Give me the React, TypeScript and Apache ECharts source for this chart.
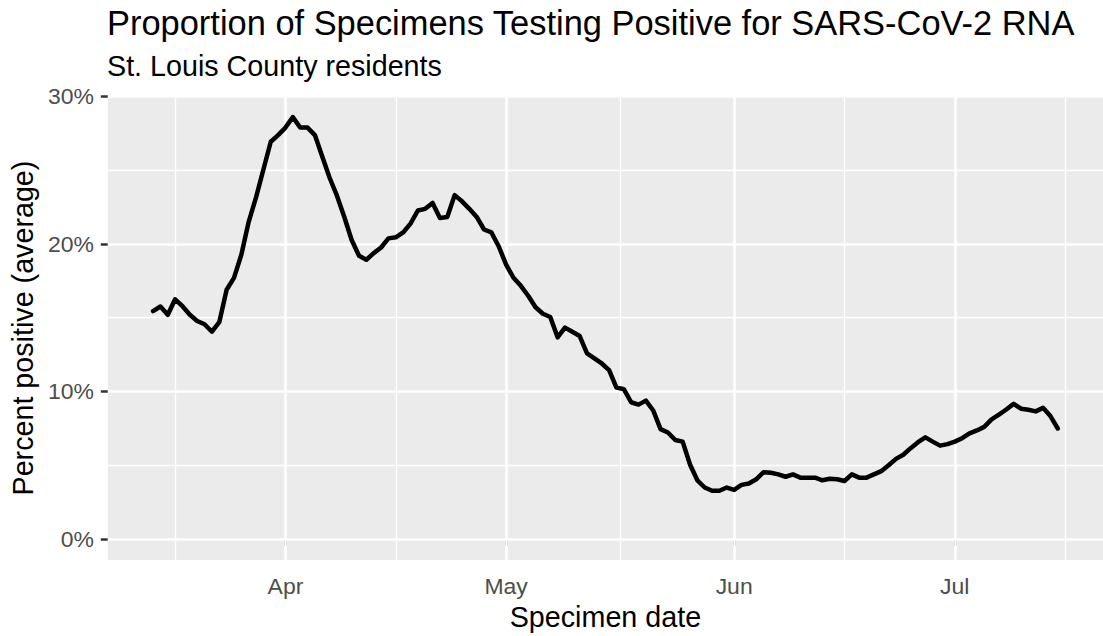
import React, { useEffect, useRef } from "react";
import * as echarts from "echarts";

// ---- data ----
const TITLE = "Proportion of Specimens Testing Positive for SARS-CoV-2 RNA";
const SUBTITLE = "St. Louis County residents";
const X_NAME = "Specimen date";
const Y_NAME = "Percent positive (average)";

const START_DATE = "2020-03-14"; // first specimen date, one value per day

const percentPositive = [
  // Mar 14 - Mar 31
  15.45, 15.76, 15.2, 16.25, 15.78, 15.2, 14.78, 14.56, 14.05, 14.7,
  16.9, 17.7, 19.27, 21.5, 23.16, 25.05, 26.93, 27.38,
  // Apr 1 - Apr 30
  27.89, 28.6, 27.89, 27.89, 27.38, 25.93, 24.49, 23.27, 21.83, 20.27,
  19.2, 18.93, 19.38, 19.76, 20.38, 20.45, 20.78, 21.38, 22.27, 22.38,
  22.78, 21.76, 21.83, 23.31, 22.89, 22.38, 21.83, 20.98, 20.78, 19.83,
  // May 1 - May 31
  18.6, 17.71, 17.16, 16.49, 15.71, 15.27, 15.05, 13.67, 14.33, 14.05,
  13.76, 12.58, 12.25, 11.9, 11.45, 10.27, 10.16, 9.27, 9.11, 9.38,
  8.71, 7.45, 7.22, 6.71, 6.6, 5.05, 3.98, 3.49, 3.27, 3.27,
  3.49,
  // Jun 1 - Jun 30
  3.33, 3.67, 3.76, 4.05, 4.53, 4.49, 4.38, 4.22, 4.38, 4.16,
  4.16, 4.16, 3.98, 4.08, 4.05, 3.93, 4.38, 4.16, 4.16, 4.38,
  4.6, 5.0, 5.43, 5.71, 6.16, 6.56, 6.89, 6.6, 6.33, 6.43,
  // Jul 1 - Jul 15
  6.6, 6.83, 7.16, 7.36, 7.6, 8.11, 8.43, 8.78, 9.16, 8.83,
  8.76, 8.65, 8.89, 8.33, 7.49,
];

const X_BREAKS = ["2020-04-01", "2020-05-01", "2020-06-01", "2020-07-01"];
const MONTH_NAMES = ["Jan", "Feb", "Mar", "Apr", "May", "Jun", "Jul", "Aug", "Sep", "Oct", "Nov", "Dec"];
const Y_BREAKS = [0, 10, 20, 30];
const Y_MINOR = [5, 15, 25];

// ---- helpers ----
const DAY_MS = 86400000;
function dayNum(s: string): number {
  const [y, m, d] = s.split("-").map(Number);
  return Date.UTC(y, m - 1, d) / DAY_MS;
}

export default function App() {
  const ref = useRef<HTMLDivElement>(null);

  useEffect(() => {
    if (!ref.current) return;
    const chart = echarts.init(ref.current, null, { renderer: "svg" });

    const start = dayNum(START_DATE);
    const seriesData = percentPositive.map((v, i) => [start + i, v]);
    const first = start;
    const last = start + percentPositive.length - 1;
    const xExp = (last - first) * 0.05;
    const yMaxData = Math.max(...percentPositive);
    const yMin = -yMaxData * 0.05;
    const yMax = yMaxData * 1.05;

    const xMajor = X_BREAKS.map(dayNum);
    const step = xMajor[1] - xMajor[0];
    const ext = [xMajor[0] - step, ...xMajor, xMajor[xMajor.length - 1] + step];
    const xMinor: number[] = [];
    for (let i = 0; i < ext.length - 1; i++) xMinor.push((ext[i] + ext[i + 1]) / 2);

    const font = "'Liberation Sans', Arial, sans-serif";
    const base = 28.7;
    const gridLine = (width: number) => ({
      silent: true,
      symbol: ["none", "none"],
      label: { show: false },
      emphasis: { disabled: true },
      lineStyle: { color: "#FFFFFF", width, type: "solid", opacity: 1 },
    });

    chart.setOption({
      animation: false,
      textStyle: { fontFamily: font },
      grid: {
        left: 106,
        right: -1.6,
        top: 96,
        bottom: 69,
        show: true,
        backgroundColor: "#EBEBEB",
        borderWidth: 0,
        containLabel: false,
      },
      graphic: [
        {
          type: "text",
          left: 107,
          top: 6,
          style: { text: TITLE, fontSize: base * 1.2, fontFamily: font, fill: "#000000" },
        },
        {
          type: "text",
          left: 107,
          top: 51,
          style: { text: SUBTITLE, fontSize: base, fontFamily: font, fill: "#000000" },
        },
      ],
      xAxis: {
        type: "value",
        min: first - xExp,
        max: last + xExp,
        name: X_NAME,
        nameLocation: "middle",
        nameGap: 39,
        nameTextStyle: { fontSize: base, color: "#000000", fontFamily: font },
        axisLine: { show: false },
        splitLine: { show: false },
        axisTick: {
          show: true,
          customValues: xMajor,
          length: 7,
          lineStyle: { color: "#333333", width: 2.5 },
        },
        axisLabel: {
          customValues: xMajor,
          margin: 14,
          fontSize: base * 0.8,
          color: "#4D4D4D",
          formatter: (v: number) => MONTH_NAMES[new Date(v * DAY_MS).getUTCMonth()],
        },
      },
      yAxis: {
        type: "value",
        min: yMin,
        max: yMax,
        name: Y_NAME,
        nameLocation: "middle",
        nameRotate: 90,
        nameGap: 64,
        nameTextStyle: { fontSize: base, color: "#000000", fontFamily: font },
        axisLine: { show: false },
        splitLine: { show: false },
        axisTick: {
          show: true,
          customValues: Y_BREAKS,
          length: 7,
          lineStyle: { color: "#333333", width: 2.5 },
        },
        axisLabel: {
          customValues: Y_BREAKS,
          margin: 14,
          fontSize: base * 0.8,
          color: "#4D4D4D",
          formatter: (v: number) => `${Math.round(v)}%`,
        },
      },
      series: [
        {
          type: "line",
          data: [],
          z: 1,
          markLine: {
            ...gridLine(1.3),
            data: [...xMinor.map((v) => ({ xAxis: v })), ...Y_MINOR.map((v) => ({ yAxis: v }))],
          },
        },
        {
          type: "line",
          data: [],
          z: 2,
          markLine: {
            ...gridLine(2.6),
            data: [...xMajor.map((v) => ({ xAxis: v })), ...Y_BREAKS.map((v) => ({ yAxis: v }))],
          },
        },
        {
          type: "line",
          data: seriesData,
          z: 5,
          showSymbol: false,
          symbol: "none",
          lineStyle: { color: "#000000", width: 4.5, join: "round", cap: "round" },
          emphasis: { disabled: true },
        },
      ],
    });

    return () => chart.dispose();
  }, []);

  return (
    <div
      ref={ref}
      style={{ position: "fixed", left: 0, top: 0, width: 1103, height: 636, background: "#FFFFFF" }}
    />
  );
}
